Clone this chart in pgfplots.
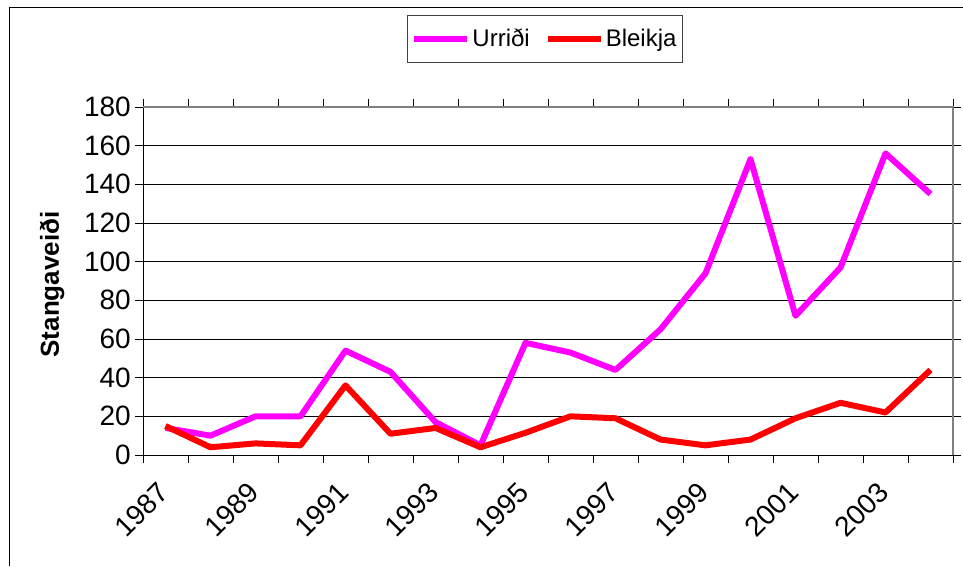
\documentclass[border=0pt]{standalone}
\usepackage{pgfplots}
\pgfplotsset{compat=1.18}
\usepackage{fontspec}
\setmainfont{Liberation Sans}
\definecolor{mag}{RGB}{255,0,255}
\definecolor{rd}{RGB}{255,0,0}
\pgfplotstableread{
x U B
0 14 15
1 10 4
2 20 6
3 20 5
4 54 36
5 43 11
6 17 14
7 5 4
8 58 11.5
9 53 20
10 44 19
11 65 8
12 94 5
13 153 8
14 72 19
15 97 27
16 156 22
17 135 44
}\datatable
\newcommand{\tickfont}{\fontsize{28}{32}\selectfont}
\begin{document}
\fontsize{24}{28}\selectfont
\begin{tikzpicture}
\useasboundingbox (0,0) rectangle (963pt,566pt);
\draw[line width=1pt] (9pt,0pt) -- (9pt,558pt) -- (963pt,558pt);
\begin{axis}[
  at={(143pt,111pt)}, anchor=south west,
  scale only axis, width=810pt, height=348pt,
  xmin=-0.5, xmax=17.5, ymin=0, ymax=180,
  xtick={-0.5,0.5,...,17.5}, xticklabels={},
  extra x ticks={0,2,...,16},
  extra x tick labels={1987,1989,1991,1993,1995,1997,1999,2001,2003},
  extra x tick style={major tick length=0pt, grid=none,
    tick style={draw=none},
    xticklabel style={xshift=-9pt, yshift=-25pt, rotate=45, anchor=north east, inner sep=0pt}},
  ytick={0,20,...,180},
  ymajorgrids, major grid style={black, line width=1pt},
  tick align=outside, major tick length=8pt,
  tick style={black, line width=1pt},
  axis line style={draw=none},
  /pgf/number format/assume math mode=true,
  every tick label/.append style={font=\tickfont},
  yticklabel style={inner sep=0pt, xshift=-4pt},
  ylabel={\bfseries Stangaveiði},
  ylabel style={at={(axis description cs:-0.1123,0.49)}, anchor=center, font=\fontsize{26}{30}\selectfont},
  legend columns=2,
  legend style={at={(axis description cs:0.3259,1.2644)}, anchor=north west,
    draw=black!75, line width=1pt, inner xsep=4pt, inner ysep=11pt,
    font=\fontsize{24}{28}\selectfont,
    nodes={inner sep=2pt},
    /tikz/every even column/.append style={column sep=13pt}},
  legend image code/.code={\draw[#1] (0pt,0pt) -- (53pt,0pt);},
  clip=false,
]
\addplot[mag, line width=6pt, line join=round] table[x=x, y=U] {\datatable};
\addlegendentry{Urriði}
\addplot[rd, line width=6pt, line join=round] table[x=x, y=B] {\datatable};
\addlegendentry{Bleikja}
\draw[black, line width=1pt] (rel axis cs:0,1) -- (rel axis cs:0,0) -- (rel axis cs:1,0);
\draw[gray, line width=1.5pt] (rel axis cs:0,1) -- (rel axis cs:1,1) -- (rel axis cs:1,0);
\end{axis}
\end{tikzpicture}
\end{document}
